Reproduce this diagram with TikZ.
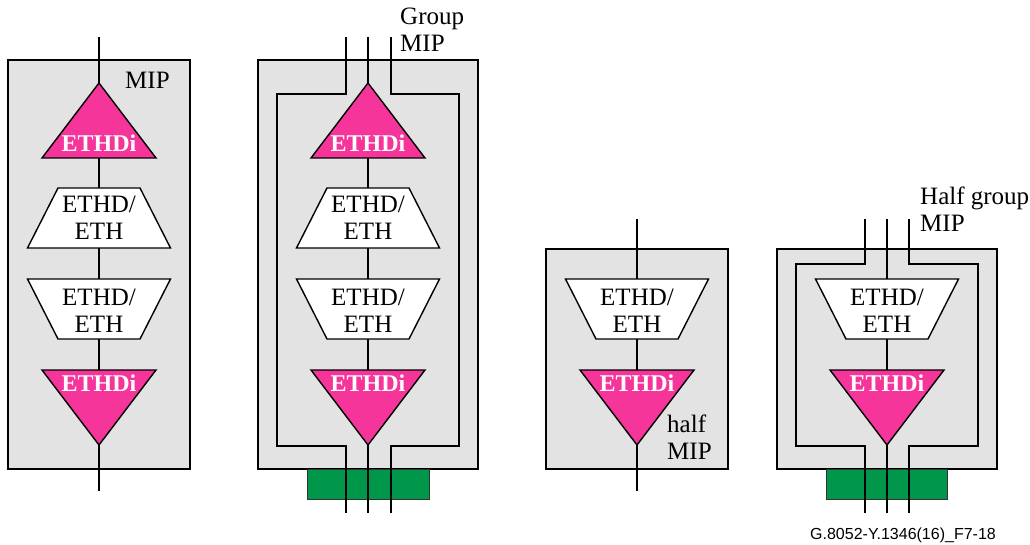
\documentclass[tikz,border=0pt]{standalone}
\usepackage{fontspec}
\setmainfont{Liberation Serif}
\newfontfamily\footfont{Liberation Sans}
\definecolor{mippink}{HTML}{F5359A}
\definecolor{mipgreen}{HTML}{00974A}
\definecolor{boxgrey}{HTML}{E3E3E3}
\tikzset{
  wire/.style={draw=black, line width=1.4pt},
  boxshape/.style={draw=black, line width=1.4pt, fill=boxgrey},
  trishape/.style={draw=black, line width=1.4pt, fill=mippink, line join=miter},
  trapshape/.style={draw=black, line width=1.4pt, fill=white},
  greenbar/.style={draw=black!80, line width=0.9pt, fill=mipgreen},
  lbl/.style={inner sep=0pt, font=\fontsize{25}{27}\selectfont, align=left},
  lblw/.style={inner sep=0pt, text=white, font=\fontsize{24}{27}\selectfont\bfseries},
  lblc/.style={inner sep=0pt, font=\fontsize{25}{27}\selectfont, align=center},
}
% #1 name, #2 cx, #3 y top, #4 y bottom
\newcommand\triUp[4]{%
  \draw[trishape] (#2,#3) -- ({#2+57},#4) -- ({#2-57},#4) -- cycle;
  \coordinate (#1-t) at (#2,#3); \coordinate (#1-b) at (#2,#4);
  \node[lblw, anchor=base] (#1-l) at (#2,{#4-6}) {ETHDi};}
\newcommand\triDown[4]{%
  \draw[trishape] ({#2-57},#3) -- ({#2+57},#3) -- (#2,#4) -- cycle;
  \coordinate (#1-t) at (#2,#3); \coordinate (#1-b) at (#2,#4);
  \node[lblw, anchor=base] (#1-l) at (#2,{#3+21}) {ETHDi};}
\newcommand\trapBot[4]{% wide at bottom
  \draw[trapshape] ({#2-41},#3) -- ({#2+41},#3) -- ({#2+71.5},#4) -- ({#2-71.5},#4) -- cycle;
  \coordinate (#1-t) at (#2,#3); \coordinate (#1-b) at (#2,#4);
  \node[lblc, anchor=base] (#1-l) at (#2,{#4-8}) {ETHD/\\ETH};}
\newcommand\trapTop[4]{% wide at top
  \draw[trapshape] ({#2-71.5},#3) -- ({#2+71.5},#3) -- ({#2+41},#4) -- ({#2-41},#4) -- cycle;
  \coordinate (#1-t) at (#2,#3); \coordinate (#1-b) at (#2,#4);
  \node[lblc, anchor=base] (#1-l) at (#2,{#4-7}) {ETHD/\\ETH};}
\begin{document}
\begin{tikzpicture}[x=1pt, y=-1pt]
\useasboundingbox (0,0) rectangle (1030,545);

% ---------- Diagram 1: MIP ----------
\draw[boxshape] (8,60) rectangle (190,469);
\coordinate (d1-in) at (99,37);
\coordinate (d1-out) at (99,491);
\draw[wire] (d1-in) -- (d1-out);
\triUp{d1u}{99}{83}{158}
\trapBot{d1a}{99}{188}{248}
\trapTop{d1b}{99}{279}{339}
\triDown{d1d}{99}{370}{445}
\node[lbl, anchor=base west] (d1-mip) at (125,89) {MIP};

% ---------- Diagram 2: Group MIP ----------
\draw[boxshape] (258,60) rectangle (478,469);
\draw[greenbar] (307,469) rectangle (429,499);
\coordinate (d2-inL) at (346,37);
\coordinate (d2-inC) at (368,37);
\coordinate (d2-inR) at (391,37);
\coordinate (d2-outL) at (346,513);
\coordinate (d2-outC) at (368,513);
\coordinate (d2-outR) at (391,513);
\draw[wire] (d2-inL) -- (346,94) -- (277,94) -- (277,446) -- (346,446) -- (d2-outL);
\draw[wire] (d2-inR) -- (391,94) -- (459,94) -- (459,446) -- (391,446) -- (d2-outR);
\draw[wire] (d2-inC) -- (d2-outC);
\triUp{d2u}{368}{83}{158}
\trapBot{d2a}{368}{188}{248}
\trapTop{d2b}{368}{279}{339}
\triDown{d2d}{368}{370}{445}
\node[lbl, anchor=base west] (d2-lab) at (400,52) {Group\\MIP};

% ---------- Diagram 3: half MIP ----------
\draw[boxshape] (546,249) rectangle (728,469);
\coordinate (d3-in) at (637,219);
\coordinate (d3-out) at (637,491);
\draw[wire] (d3-in) -- (d3-out);
\trapTop{d3b}{637}{279}{339}
\triDown{d3d}{637}{370}{445}
\node[lbl, anchor=base west] (d3-lab) at (667,459) {half\\MIP};

% ---------- Diagram 4: Half group MIP ----------
\draw[boxshape] (777,249) rectangle (997,469);
\draw[greenbar] (826,469) rectangle (947,499);
\coordinate (d4-inL) at (865,219);
\coordinate (d4-inC) at (887,219);
\coordinate (d4-inR) at (909,219);
\coordinate (d4-outL) at (865,513);
\coordinate (d4-outC) at (887,513);
\coordinate (d4-outR) at (909,513);
\draw[wire] (d4-inL) -- (865,264) -- (796,264) -- (796,446) -- (865,446) -- (d4-outL);
\draw[wire] (d4-inR) -- (909,264) -- (978,264) -- (978,446) -- (909,446) -- (d4-outR);
\draw[wire] (d4-inC) -- (d4-outC);
\trapTop{d4b}{887}{279}{339}
\triDown{d4d}{887}{370}{445}
\node[lbl, anchor=base west] (d4-lab) at (920,232) {Half group\\MIP};

% ---------- footer ----------
\node[inner sep=0pt, anchor=base, font=\footfont\fontsize{16}{18}\selectfont] (foot) at (903,539) {G.8052-Y.1346(16)\_F7-18};
\end{tikzpicture}
\end{document}
